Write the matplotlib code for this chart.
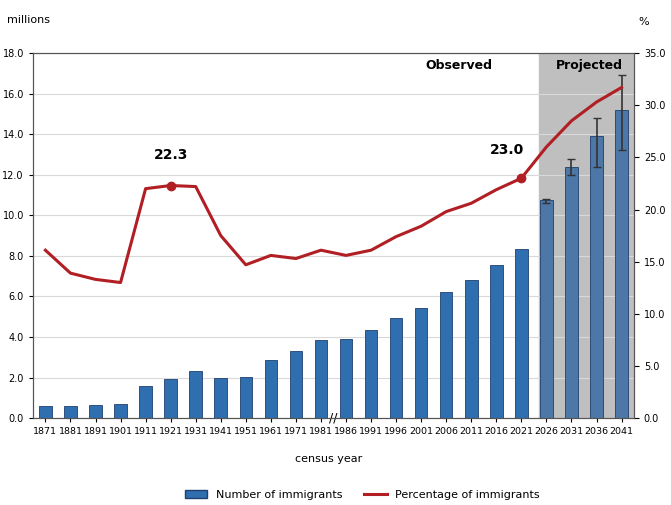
import matplotlib
matplotlib.use("Agg")
import matplotlib.pyplot as plt
import numpy as np

years = ["1871","1881","1891","1901","1911","1921","1931","1941","1951","1961","1971","1981","1986","1991","1996","2001","2006","2011","2016","2021","2026","2031","2036","2041"]
immigrants = [0.6,0.6,0.65,0.7,1.6,1.95,2.3,2.0,2.05,2.85,3.3,3.85,3.9,4.35,4.95,5.45,6.2,6.8,7.55,8.35,10.75,12.4,13.9,15.2]
err_low = [None]*20 + [10.6,12.0,12.4,13.2]
err_high = [None]*20 + [10.8,12.8,14.8,16.9]
percent = [16.1,13.9,13.3,13.0,22.0,22.3,22.2,17.5,14.7,15.6,15.3,16.1,15.6,16.1,17.4,18.4,19.8,20.6,21.9,23.0,26.0,28.5,30.3,31.7]

fig = plt.figure(figsize=(6.71,5.05), dpi=100)
ax = fig.add_axes([0.049,0.172,0.896,0.723])
x = np.arange(len(years))
ax.axvspan(19.72, 23.5, color="#bfbfbf", zorder=0)
colors = ["#2f6fb0"]*20 + ["#4d77a6"]*4
ax.bar(x, immigrants, width=0.5, color=colors, edgecolor="#1f3f6f", linewidth=0.6, zorder=2)
ex = x[20:]
mid = np.array(immigrants[20:])
lo = mid - np.array(err_low[20:]); hi = np.array(err_high[20:]) - mid
ax.errorbar(ex, mid, yerr=[lo, hi], fmt="none", ecolor="#333333", capsize=3, lw=1.2, zorder=4)
ax.set_ylim(0,18); ax.set_xlim(-0.5,23.5)
ax.set_yticks(np.arange(0,18.1,2))
ax.set_yticklabels([f"{v:.1f}" for v in np.arange(0,18.1,2)], fontsize=7)
ax.set_xticks(x); ax.set_xticklabels(years, fontsize=6.8)
ax.grid(axis="y", color="#d9d9d9", lw=0.8, zorder=1); ax.set_axisbelow(True)
ax.tick_params(length=3)
ax2 = ax.twinx()
ax2.set_ylim(0,35)
ax2.set_yticks(np.arange(0,35.1,5))
ax2.set_yticklabels([f"{v:.1f}" for v in np.arange(0,35.1,5)], fontsize=7)
ax2.plot(x, percent, color="#b11f24", lw=2.2, zorder=5)
ax2.plot([5,19],[percent[5],percent[19]], "o", color="#b11f24", ms=6)
ax2.text(5, 24.8, "22.3", ha="center", fontsize=10, fontweight="bold")
ax2.text(19.1, 25.3, "23.0", ha="right", fontsize=10, fontweight="bold")
ax2.text(16.5, 33.5, "Observed", ha="center", fontsize=9, fontweight="bold")
ax2.text(21.7, 33.5, "Projected", ha="center", fontsize=9, fontweight="bold")
for s in (ax.spines, ax2.spines):
    for k in s: s[k].set_color("#555555")
fig.text(0.01, 0.955, "millions", fontsize=8)
fig.text(0.952, 0.95, "%", fontsize=8)
ax.text(11.5, 0, "//", transform=ax.get_xaxis_transform(), ha="center", va="center", fontsize=9, clip_on=False)
fig.text(0.49, 0.085, "census year", ha="center", fontsize=8)
from matplotlib.patches import Patch
from matplotlib.lines import Line2D
fig.legend([Patch(facecolor="#2f6fb0", edgecolor="#1f3f6f"), Line2D([],[],color="#b11f24",lw=2.2)],
           ["Number of immigrants","Percentage of immigrants"], loc="lower center",
           bbox_to_anchor=(0.54,-0.01), ncol=2, frameon=False, fontsize=8)
fig.savefig("out.png", dpi=100)
